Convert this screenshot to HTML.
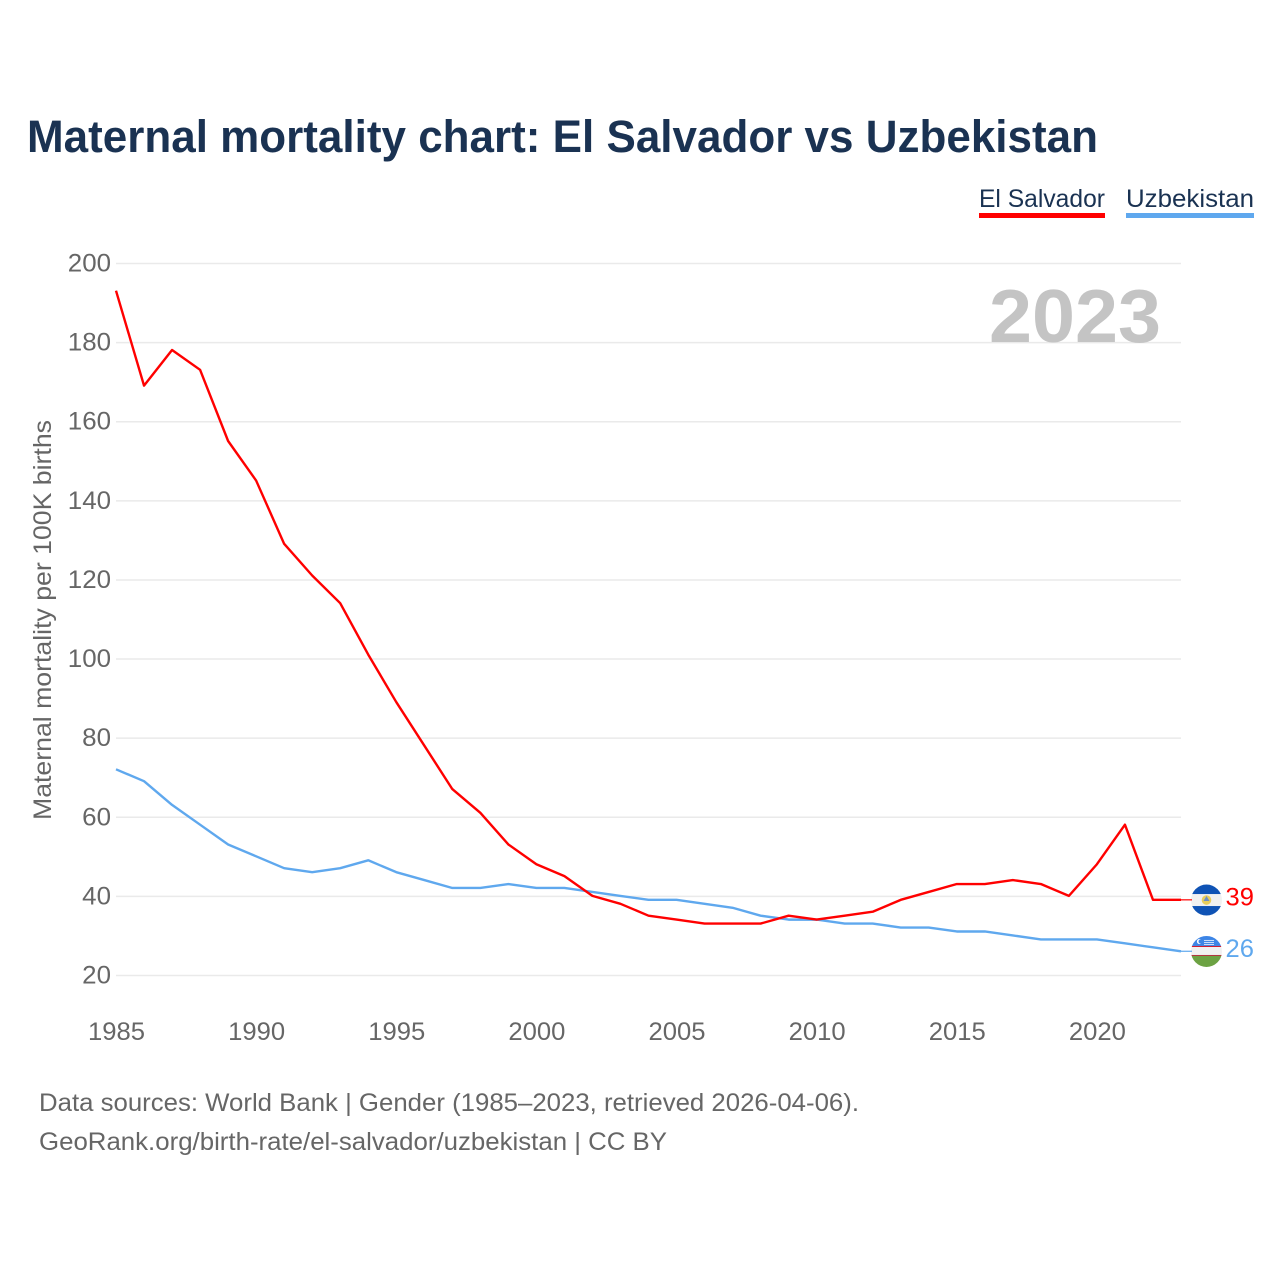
<!DOCTYPE html>
<html lang="en">
<head>
<meta charset="utf-8">
<title>Maternal mortality chart: El Salvador vs Uzbekistan</title>
<style>
html,body{margin:0;padding:0;background:#fff;width:1280px;height:1280px;overflow:hidden}
svg{display:block;font-family:"Liberation Sans",sans-serif}
</style>
</head>
<body>
<svg id="chart" xmlns="http://www.w3.org/2000/svg" width="1280" height="1280" viewBox="0 0 1280 1280">
  <rect width="1280" height="1280" fill="#fff"/>
  <text x="27" y="152" font-size="45" font-weight="bold" fill="#1a3252" textLength="1071" lengthAdjust="spacingAndGlyphs">Maternal mortality chart: El Salvador vs Uzbekistan</text>

  <g>
    <text x="979" y="207" font-size="25" fill="#1a3252" textLength="126" lengthAdjust="spacingAndGlyphs">El Salvador</text>
    <rect x="979" y="213" width="126" height="5" fill="#ff0000"/>
  </g>
  <g>
    <text x="1126" y="207" font-size="25" fill="#1a3252" textLength="128" lengthAdjust="spacingAndGlyphs">Uzbekistan</text>
    <rect x="1126" y="213" width="128" height="5" fill="#5fa8ee"/>
  </g>

  <g id="grid"></g>
  <g id="yticks"></g>
  <g id="xticks"></g>

  <text transform="translate(51,820) rotate(-90)" font-size="25" fill="#666" textLength="400" lengthAdjust="spacingAndGlyphs">Maternal mortality per 100K births</text>

  <text x="989" y="342" font-size="75" font-weight="bold" fill="#c4c4c4" textLength="172" lengthAdjust="spacingAndGlyphs">2023</text>

  <g id="series" transform="translate(0,-0.5)"></g>

  <defs>
    <clipPath id="clip-sv"><circle id="clip-sv-c" cx="1206.5" cy="900" r="15.5"/></clipPath>
    <clipPath id="clip-uz"><circle id="clip-uz-c" cx="1206.5" cy="951.5" r="15.5"/></clipPath>
  </defs>
  <g id="flag-sv">
    <g clip-path="url(#clip-sv)">
      <rect x="1190" y="884" width="34" height="32" fill="#f1f1f1"/>
      <rect x="1190" y="884" width="34" height="10" fill="#0f53b5"/>
      <rect x="1190" y="906" width="34" height="10" fill="#0f53b5"/>
      <circle cx="1206.5" cy="900" r="4.8" fill="#e9cf5c"/>
      <path d="M1206.5 896l3 5h-6z" fill="#6f8fc4"/>
    </g>
  </g>
  <g id="flag-uz">
    <g clip-path="url(#clip-uz)">
      <rect x="1190" y="935" width="34" height="11" fill="#3d85e6"/>
      <rect x="1190" y="946" width="34" height="1" fill="#ce1126"/>
      <rect x="1190" y="947" width="34" height="8" fill="#f1f1f1"/>
      <rect x="1190" y="955" width="34" height="1" fill="#b0303a"/>
      <rect x="1190" y="956" width="34" height="12" fill="#6ca243"/>
      <circle cx="1199.5" cy="941.5" r="2.6" fill="#fff"/>
      <circle cx="1200.7" cy="941.5" r="2.2" fill="#3d85e6"/>
      <rect x="1204" y="940" width="10" height="1" fill="#cfe0f8"/>
      <rect x="1204" y="942" width="10" height="1" fill="#cfe0f8"/>
      <rect x="1204" y="944" width="10" height="1" fill="#cfe0f8"/>
    </g>
  </g>

  <g id="end-labels"></g>

  <text x="39" y="1111" font-size="25" fill="#666" textLength="820" lengthAdjust="spacingAndGlyphs">Data sources: World Bank | Gender (1985–2023, retrieved 2026-04-06).</text>
  <text x="39" y="1150" font-size="25" fill="#666" textLength="628" lengthAdjust="spacingAndGlyphs">GeoRank.org/birth-rate/el-salvador/uzbekistan | CC BY</text>
</svg>
<script>
const years = [1985,1986,1987,1988,1989,1990,1991,1992,1993,1994,1995,1996,1997,1998,1999,2000,2001,2002,2003,2004,2005,2006,2007,2008,2009,2010,2011,2012,2013,2014,2015,2016,2017,2018,2019,2020,2021,2022,2023];
const elSalvador = [193,169,178,173,155,145,129,121,114,101,89,78,67,61,53,48,45,40,38,35,34,33,33,33,35,34,35,36,39,41,43,43,44,43,40,48,58,39,39];
const uzbekistan = [72,69,63,58,53,50,47,46,47,49,46,44,42,42,43,42,42,41,40,39,39,38,37,35,34,34,33,33,32,32,31,31,30,29,29,29,28,27,26];
const yTickLabels = [20,40,60,80,100,120,140,160,180,200];
const xTickLabels = [1985,1990,1995,2000,2005,2010,2015,2020];

const NS = 'http://www.w3.org/2000/svg';
function xScale(year){ return 116 + (year - 1985) * (1181 - 116) / (2023 - 1985); }
function yScale(v){ return 975.5 - (v - 20) * (975.5 - 263.5) / (200 - 20); }
function make(tag, attrs, text){
  const el = document.createElementNS(NS, tag);
  for (const k in attrs) el.setAttribute(k, attrs[k]);
  if (text !== undefined) el.textContent = text;
  return el;
}

const grid = document.getElementById('grid');
const yticks = document.getElementById('yticks');
const xticks = document.getElementById('xticks');
const series = document.getElementById('series');
const endLabels = document.getElementById('end-labels');

yTickLabels.forEach(function(v){
  const line = make('line', {x1:116, x2:1181, y1:yScale(v), y2:yScale(v), stroke:'#eaeaea', 'stroke-width':1.5});
  
  
  grid.appendChild(line);
  const s = String(v);
  const w = s.length * 14.4;
  const t = make('text', {x:111 - w, y:yScale(v) + 8, 'font-size':25, fill:'#666', textLength:w, lengthAdjust:'spacingAndGlyphs'}, s);
  
  
  yticks.appendChild(t);
});

xTickLabels.forEach(function(v){
  const t = make('text', {x:xScale(v) - 28, y:1040, 'font-size':25, fill:'#666', textLength:57, lengthAdjust:'spacingAndGlyphs'}, String(v));
  
  
  xticks.appendChild(t);
});

function linePoints(values){
  return values.map(function(v, i){ return xScale(years[i]).toFixed(2) + ',' + yScale(v).toFixed(2); }).join(' ');
}

const lineUz = make('polyline', {points:linePoints(uzbekistan), fill:'none', stroke:'#5fa8ee', 'stroke-width':2.4, 'stroke-linejoin':'round'});


series.appendChild(lineUz);

const lineSv = make('polyline', {points:linePoints(elSalvador), fill:'none', stroke:'#ff0000', 'stroke-width':2.4, 'stroke-linejoin':'round'});


series.appendChild(lineSv);

function placeEnd(values, color, flagId, baseFlagY){
  const last = values[values.length - 1];
  const y = yScale(last);
  const x = xScale(years[years.length - 1]);
  document.getElementById(flagId).setAttribute('transform', 'translate(0,' + (y - baseFlagY).toFixed(2) + ')');
  const lead = make('line', {x1:x, x2:1192, y1:y - 0.5, y2:y - 0.5, stroke:color, 'stroke-width':1.2});
  
  
  endLabels.appendChild(lead);
  const t = make('text', {x:1225.5, y:y + 5, 'font-size':25, fill:color, textLength:String(last).length * 14.2, lengthAdjust:'spacingAndGlyphs'}, String(last));
  
  
  endLabels.appendChild(t);
}
placeEnd(elSalvador, '#ff0000', 'flag-sv', 900.3);
placeEnd(uzbekistan, '#5fa8ee', 'flag-uz', 951.8);
</script>
</body>
</html>
